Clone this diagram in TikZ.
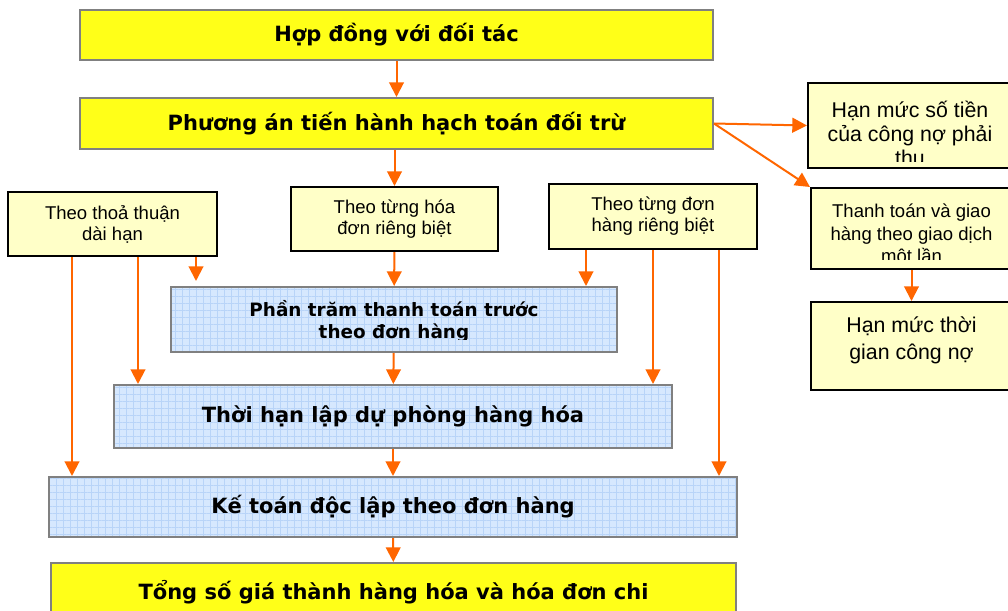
\documentclass[tikz,border=0pt]{standalone}
\usepackage{fontspec}
\setmainfont{Liberation Sans}
\newfontfamily\headfont{DejaVu Sans}
\usetikzlibrary{arrows.meta, patterns.meta, calc}
\definecolor{flowyellow}{RGB}{255,255,24}
\definecolor{noteyellow}{RGB}{255,255,200}
\definecolor{gridblue}{RGB}{214,232,254}
\definecolor{gridline}{RGB}{184,212,248}
\definecolor{framegray}{RGB}{128,128,128}
\definecolor{arroworange}{RGB}{255,102,0}

\begin{document}
\begin{tikzpicture}[x=0.75pt, y=-0.75pt,
    mainbox/.style={rectangle, draw=framegray, line width=1.5pt, fill=flowyellow, inner sep=0pt, align=center, font=\headfont\bfseries\fontsize{15.75}{19}\selectfont},
    stagebox/.style={rectangle, preaction={fill=gridblue}, pattern={Hatch[angle=0, distance=5.25pt, line width=0.6pt]}, pattern color=gridline, draw=framegray, line width=1.5pt, inner sep=0pt, align=center, font=\headfont\bfseries\fontsize{15.75}{19}\selectfont},
    notebox/.style={rectangle, draw=black, line width=1.5pt, fill=noteyellow, inner sep=0pt, align=center, font=\fontsize{13.9}{15.75}\selectfont},
    notetext/.style={inner sep=0pt, align=center},
    flow/.style={-{Triangle[width=11pt, length=11pt]}, line width=1.5pt, color=arroworange}
]
\useasboundingbox (0,0) rectangle (1008,611);

% main chain
\node[mainbox, minimum width=474.75pt, minimum height=37.5pt] (contract) at (396.5,35) {Hợp đồng với đối tác};
\node[mainbox, minimum width=474.75pt, minimum height=38.25pt] (plan) at (396.5,123.5) {Phương án tiến hành hạch toán đối trừ};

% right side
\node[notebox, minimum width=153pt, minimum height=63.75pt] (limit) at (910,125.5) {};
\begin{scope}
\clip (limit.north west) rectangle ([yshift=6pt]limit.south east);
\node[notetext, font=\fontsize{16}{18}\selectfont] (limittext) at ([yshift=-5.6pt]limit.center) {Hạn mức số tiền\\của công nợ phải\\thu};
\end{scope}
\node[notebox, minimum width=150.75pt, minimum height=60.75pt] (oncepay) at (911.5,228.5) {};
\begin{scope}
\clip (oncepay.north west) rectangle ([yshift=8.25pt]oncepay.south east);
\node[notetext, font=\fontsize{13.9}{16.9}\selectfont] (oncepaytext) at ([yshift=-4.9pt]oncepay.center) {Thanh toán và giao\\hàng theo giao dịch\\một lần};
\end{scope}
\node[notebox, minimum width=150.75pt, minimum height=66pt] (termlimit) at (911.5,346) {};
\node[notetext, font=\fontsize{16}{20.25}\selectfont] (termlimittext) at ([yshift=4.1pt]termlimit.center) {Hạn mức thời\\gian công nợ};

% options
\node[notebox, minimum width=156.75pt, minimum height=48pt] (longterm) at (112.5,224) {Theo thoả thuận\\dài hạn};
\node[notebox, minimum width=155.25pt, minimum height=48pt] (perinvoice) at (394.5,219) {Theo từng hóa\\đơn riêng biệt};
\node[notebox, minimum width=156pt, minimum height=48.75pt] (perorder) at (653,216.5) {Theo từng đơn\\hàng riêng biệt};

% stages
\node[stagebox, minimum width=334.5pt, minimum height=48.75pt] (prepay) at (394,319.5) {};
\begin{scope}
\clip (prepay.north west) rectangle ([yshift=10.5pt]prepay.south east);
\node[notetext, font=\headfont\bfseries\fontsize{13.8}{16.5}\selectfont] (prepaytext) at ([yshift=-1.1pt]prepay.center) {Phần trăm thanh toán trước\\theo đơn hàng};
\end{scope}
\node[stagebox, minimum width=418.5pt, minimum height=47.25pt] (reserve) at (393,416.5) {Thời hạn lập dự phòng hàng hóa};
\node[stagebox, minimum width=516pt, minimum height=45pt] (separate) at (393,507) {Kế toán độc lập theo đơn hàng};
\node[mainbox, minimum width=513.75pt, minimum height=43.5pt] (total) at (393.5,592) {Tổng số giá thành hàng hóa và hóa đơn chi};

\coordinate (c1) at (72,0);
\coordinate (c2) at (138,0);
\coordinate (c3) at (196,0);
\coordinate (c4) at (586,0);
\coordinate (c5) at (653,0);
\coordinate (c6) at (719,0);

\draw[flow] (contract) -- (plan);
\draw[flow] (plan.south -| perinvoice) -- (perinvoice.north);
\draw[flow] (plan.east) -- (limit.west);
\draw[flow] (plan.east) -- (oncepay.north west);
\draw[flow] (oncepay) -- (termlimit);
\draw[flow] (longterm.south -| c1) -- (separate.north -| c1);
\draw[flow] (longterm.south -| c2) -- (reserve.north -| c2);
\draw[flow] (longterm.south -| c3) -- ([yshift=3.75pt]prepay.north -| c3);
\draw[flow] (perinvoice) -- (prepay);
\draw[flow] (perorder.south -| c4) -- (prepay.north -| c4);
\draw[flow] (perorder.south -| c5) -- (reserve.north -| c5);
\draw[flow] (perorder.south -| c6) -- (separate.north -| c6);
\draw[flow] (prepay) -- (reserve);
\draw[flow] (reserve) -- (separate);
\draw[flow] (separate) -- (total);
\end{tikzpicture}
\end{document}
